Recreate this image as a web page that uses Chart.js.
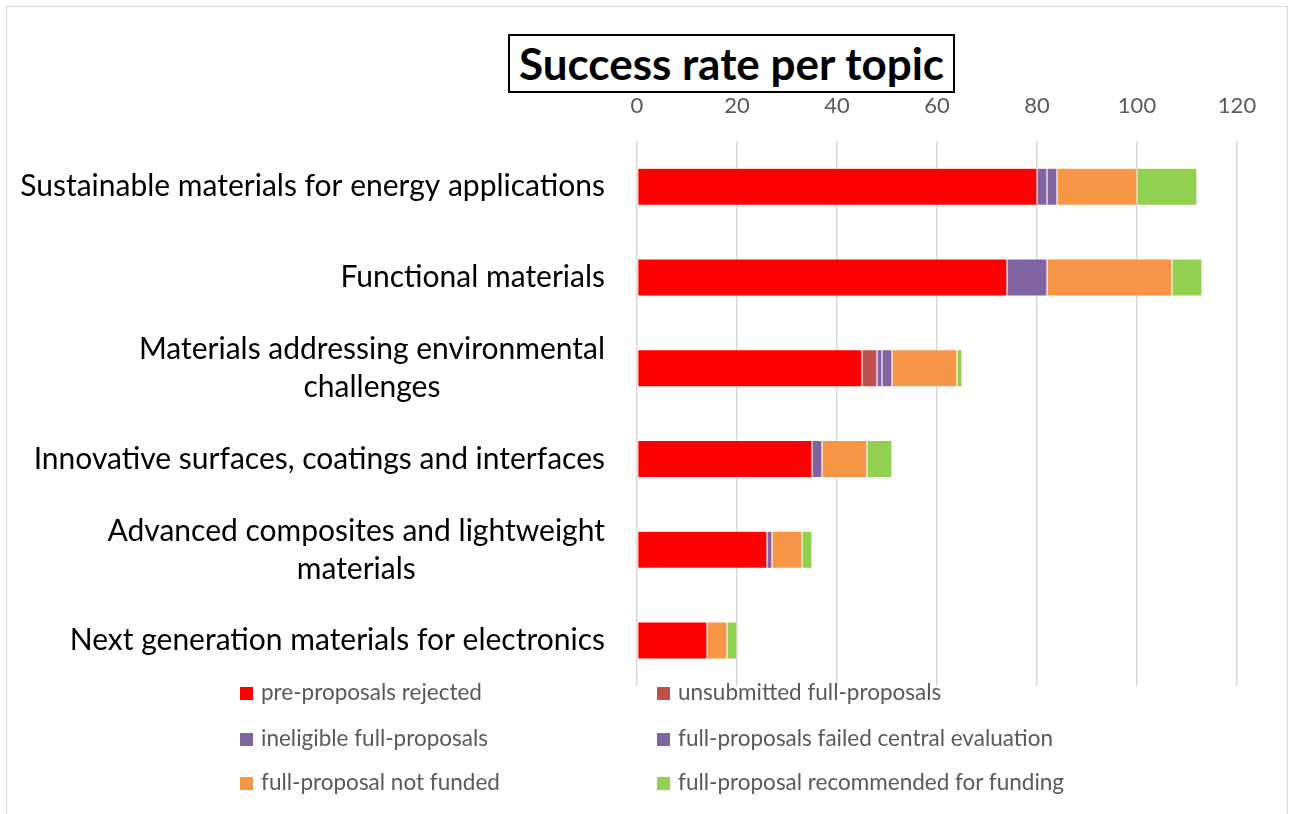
<!DOCTYPE html>
<html>
<head>
<meta charset="utf-8">
<script src="https://cdn.jsdelivr.net/npm/chart.js@4.4.0/dist/chart.umd.min.js"></script>
<style>
    html, body { margin: 0; padding: 0; background: #fff; }
    #wrap { position: relative; width: 1292px; height: 814px; overflow: hidden; }
    #frame { position: absolute; left: 6px; top: 6px; width: 1282px; height: 820px; border: 1px solid #d9d9d9; box-sizing: border-box; }
    #chart { position: absolute; left: 0; top: 0; }
    #title {
        position: absolute; left: 508px; top: 34px; width: 447px; height: 59px;
        border: 2px solid #000; box-sizing: border-box; background: #fff;
        font-family: Lato, "Open Sans", sans-serif; font-weight: bold; font-size: 44px;
        line-height: 54px; text-align: center; color: #000; white-space: nowrap;
    }
    .legend-item {
        position: absolute; font-family: Lato, "Open Sans", sans-serif; font-size: 22.5px;
        color: #595959; white-space: nowrap; line-height: 24px;
    }
    .legend-item span.box { display: inline-block; width: 13px; height: 13px; margin-right: 8px; vertical-align: 0px; }
</style>
</head>
<body>
<div id="wrap">
    <div id="frame"></div>
    <canvas id="chart" width="1292" height="814"></canvas>
    <div id="title">Success rate per topic</div>
    <div id="legend"></div>
</div>
<script>
(function() {
    'use strict';

    // Categories (top to bottom)
    const topics = [
        ['Sustainable materials for energy applications'],
        ['Functional materials'],
        ['Materials addressing environmental', 'challenges'],
        ['Innovative surfaces, coatings and interfaces'],
        ['Advanced composites and lightweight', 'materials'],
        ['Next generation materials for electronics']
    ];

    // Series values, same order as topics
    const preRejected      = [80, 74, 45, 35, 26, 14];
    const unsubmitted      = [0, 0, 3, 0, 0, 0];
    const ineligible       = [2, 0, 1, 0, 0, 0];
    const failedCentral    = [2, 8, 2, 2, 1, 0];
    const notFunded        = [16, 25, 13, 9, 6, 4];
    const recommended      = [12, 6, 1, 5, 2, 2];

    const xTicks = [0, 20, 40, 60, 80, 100, 120];

    const seriesNames = [
        'pre-proposals rejected',
        'unsubmitted full-proposals',
        'ineligible full-proposals',
        'full-proposals failed central evaluation',
        'full-proposal not funded',
        'full-proposal recommended for funding'
    ];
    const seriesColors = ['#ff0000', '#c0504d', '#8064a2', '#8064a2', '#f79646', '#92d050'];
    const seriesData = [preRejected, unsubmitted, ineligible, failedCentral, notFunded, recommended];

    const labelFont = '30px Lato, "Open Sans", sans-serif';

    /**
     * Draw category labels: block right aligned, lines centered to each other
     */
    const categoryLabels = {
        id: 'categoryLabels',
        afterDraw(chart) {
            const ctx = chart.ctx;
            const yScale = chart.scales.y;
            const rightEdge = 605;
            const lineHeight = 38;
            ctx.save();
            ctx.font = labelFont;
            ctx.fillStyle = '#000';
            ctx.textBaseline = 'middle';
            ctx.textAlign = 'center';
            topics.forEach(function(lines, i) {
                const yc = yScale.getPixelForValue(i);
                const blockW = Math.max.apply(null, lines.map(l => ctx.measureText(l).width));
                const xc = rightEdge - blockW / 2;
                const y0 = yc - (lines.length - 1) * lineHeight / 2;
                lines.forEach(function(l, k) {
                    ctx.fillText(l, xc, y0 + k * lineHeight);
                });
            });
            ctx.restore();
        }
    };

    const ctx = document.getElementById('chart').getContext('2d');
    new Chart(ctx, {
        type: 'bar',
        data: {
            labels: topics.map(t => t.join(' ')),
            datasets: seriesNames.map(function(name, i) {
                return {
                    label: name,
                    data: seriesData[i],
                    backgroundColor: seriesColors[i],
                    borderColor: 'rgba(255,255,255,0.5)',
                    borderWidth: 0.6,
                    borderSkipped: false,
                    barPercentage: 0.41,
                    categoryPercentage: 1
                };
            })
        },
        options: {
            indexAxis: 'y',
            responsive: false,
            animation: false,
            layout: {
                padding: { left: 637, right: 55, top: 71, bottom: 128 }
            },
            plugins: {
                legend: { display: false },
                title: { display: false },
                tooltip: { enabled: false }
            },
            scales: {
                x: {
                    position: 'top',
                    stacked: true,
                    min: 0,
                    max: 120,
                    afterBuildTicks: function(axis) {
                        axis.ticks = xTicks.map(v => ({ value: v }));
                    },
                    grid: {
                        color: '#d9d9d9',
                        lineWidth: 1.5,
                        drawTicks: false
                    },
                    border: { display: false },
                    ticks: {
                        color: '#595959',
                        padding: 22,
                        font: { family: 'Lato, "Open Sans", sans-serif', size: 22 }
                    }
                },
                y: {
                    display: false,
                    stacked: true
                }
            }
        },
        plugins: [categoryLabels]
    });

    // HTML legend, two columns
    const legend = document.getElementById('legend');
    const colX = [240, 657];
    const rowY = [680, 726, 770];
    seriesNames.forEach(function(name, i) {
        const item = document.createElement('div');
        item.className = 'legend-item';
        item.style.left = colX[i % 2] + 'px';
        item.style.top = rowY[Math.floor(i / 2)] + 'px';
        item.innerHTML = '<span class="box" style="background:' + seriesColors[i] + '"></span>' + name;
        legend.appendChild(item);
    });
})();
</script>
</body>
</html>
